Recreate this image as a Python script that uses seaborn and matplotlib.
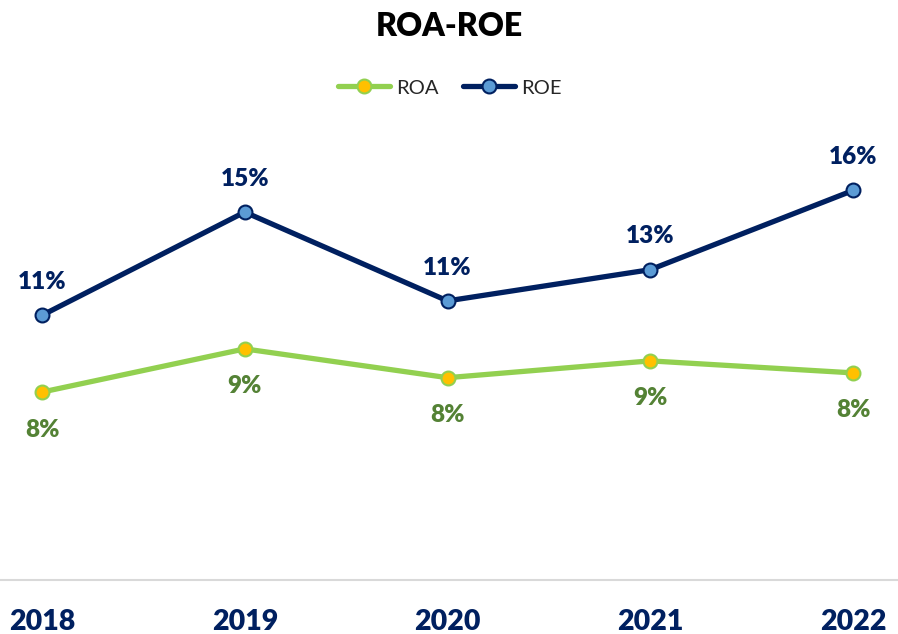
import matplotlib
matplotlib.use('Agg')
import matplotlib.pyplot as plt
import seaborn as sns
import pandas as pd

# Data (fractions)
years = ['2018', '2019', '2020', '2021', '2022']
roa = [0.076, 0.094, 0.082, 0.089, 0.084]
roe = [0.108, 0.151, 0.114, 0.127, 0.160]

ROA_LINE = '#92D050'
ROA_FACE = '#FFC000'
ROA_TEXT = '#548235'
ROE_LINE = '#002060'
ROE_FACE = '#5B9BD5'
ROE_TEXT = '#002060'

sns.set_theme(style='white')
plt.rcParams['font.family'] = ['Lato', 'DejaVu Sans']

W, H = 898, 634
fig = plt.figure(figsize=(W / 100, H / 100), dpi=100)
# axes bottom at the x axis line (y=580 px), top at 120 px
ax = fig.add_axes([0, (H - 580) / H, 1, (580 - 120) / H])

df = pd.DataFrame({'year': years, 'ROA': roa, 'ROE': roe})

sns.lineplot(data=df, x='year', y='ROA', ax=ax, color=ROA_LINE, linewidth=3.8,
             marker='o', markersize=10, markerfacecolor=ROA_FACE,
             markeredgecolor=ROA_LINE, markeredgewidth=1.5, label='ROA')
sns.lineplot(data=df, x='year', y='ROE', ax=ax, color=ROE_LINE, linewidth=3.8,
             marker='o', markersize=10, markerfacecolor=ROE_FACE,
             markeredgecolor=ROE_LINE, markeredgewidth=1.5, label='ROE')

# data labels
for i, (a, e) in enumerate(zip(roa, roe)):
    ax.annotate(f'{a:.0%}', (i, a), xytext=(0, -27), textcoords='offset points',
                ha='center', va='center', fontsize=17.5, fontweight='heavy', color=ROA_TEXT)
    ax.annotate(f'{e:.0%}', (i, e), xytext=(0, 24), textcoords='offset points',
                ha='center', va='center', fontsize=17.5, fontweight='heavy', color=ROE_TEXT)

# scale: ~24 px per percent, axis starts slightly below zero
ymin = -0.0023
ax.set_ylim(ymin, ymin + (580 - 120) / 2400)
ax.set_xlim(-42 / 202.75, 4 + 45 / 202.75)

ax.set_xlabel('')
ax.set_ylabel('')
ax.set_yticks([])
ax.tick_params(axis='x', length=0, pad=21)
for lbl in ax.get_xticklabels():
    lbl.set_fontsize(20.5)
    lbl.set_fontweight('heavy')
    lbl.set_color(ROE_TEXT)

for side in ['top', 'right', 'left']:
    ax.spines[side].set_visible(False)
ax.spines['bottom'].set_color('#D9D9D9')
ax.spines['bottom'].set_linewidth(1.5)

ax.legend(loc='center', bbox_to_anchor=(450 / W, 1 - 88 / H), bbox_transform=fig.transFigure,
          ncol=2, frameon=False, fontsize=14.5, handlelength=2.6, columnspacing=1.2,
          handletextpad=0.3)

fig.text(449 / W, 1 - 26 / H, 'ROA-ROE', ha='center', va='center',
         fontsize=23, fontweight='heavy', color='black')

fig.savefig('out.png', dpi=100)
